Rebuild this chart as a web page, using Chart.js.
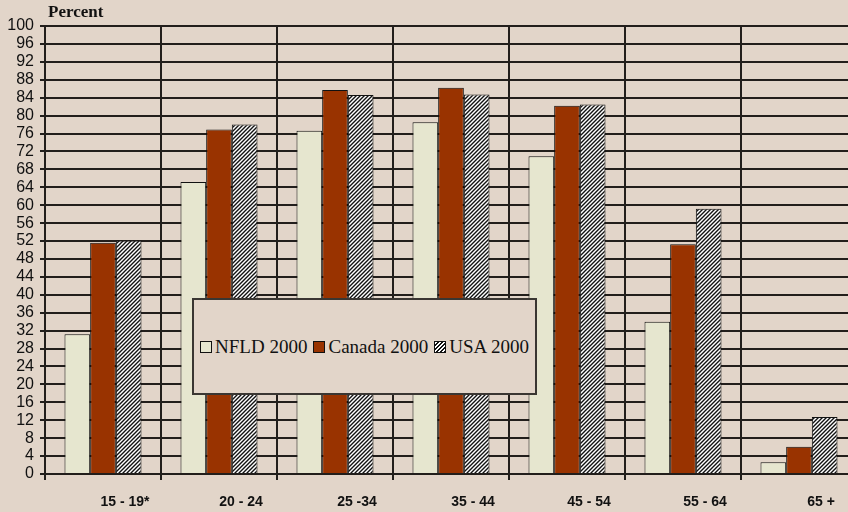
<!DOCTYPE html>
<html>
<head>
<meta charset="utf-8">
<script src="https://cdn.jsdelivr.net/npm/chart.js@4"></script>
<style>
  html, body { margin: 0; padding: 0; background: #e2d5c9; overflow: hidden; }
  #wrap { position: relative; width: 860px; height: 512px; }
  #yTitle {
    position: absolute; left: 48px; top: 2px;
    font: bold 17px "Liberation Serif", "Times New Roman", serif; color: #111;
  }
  #legend {
    position: absolute; left: 192px; top: 298px; width: 341px; height: 93px;
    background: #e2d5c9; border: 2px solid #3a3632;
    display: flex; align-items: center; justify-content: center;
    font: 19px "Liberation Serif", "Times New Roman", serif; color: #111;
  }
  #legend .item { display: flex; align-items: center; margin: 0 3px; }
  #legend .sw { width: 10px; height: 10px; border: 1px solid #111; margin-right: 3px; }
</style>
</head>
<body>
<div id="wrap">
  <canvas id="myChart" width="860" height="512"></canvas>
  <div id="yTitle">Percent</div>
  <div id="legend"></div>
</div>
<script>
const categories = ["15 - 19*", "20 - 24", "25 -34", "35 - 44", "45 - 54", "55 - 64", "65 +"];
const seriesNames = ["NFLD 2000", "Canada 2000", "USA 2000"];
const nfld = [31.2, 65.2, 76.6, 78.5, 70.9, 34.0, 2.6];
const canada = [51.6, 76.9, 85.7, 86.2, 82.2, 51.3, 6.1];
const usa = [52.1, 78.0, 84.6, 84.7, 82.5, 59.2, 12.7];

// diagonal hatch like the old spreadsheet pattern fill
const makeHatch = () => {
  const c = document.createElement("canvas");
  c.width = 4;
  c.height = 4;
  const g = c.getContext("2d");
  g.fillStyle = "#ffffff";
  g.fillRect(0, 0, 4, 4);
  g.strokeStyle = "#111111";
  g.lineWidth = 1.4;
  g.beginPath();
  g.moveTo(-1, 5); g.lineTo(5, -1);
  g.moveTo(-1, 1); g.lineTo(1, -1);
  g.moveTo(3, 5); g.lineTo(5, 3);
  g.stroke();
  return g.createPattern(c, "repeat");
};

const hatch = makeHatch();
const fills = ["#e6e6cf", "#993300", hatch];

// html legend
const legendEl = document.getElementById("legend");
seriesNames.forEach((name, i) => {
  const item = document.createElement("div");
  item.className = "item";
  const sw = document.createElement("span");
  sw.className = "sw";
  if (i === 2) {
    sw.style.background = "repeating-linear-gradient(-45deg, #111 0 1.3px, #fff 1.3px 2.8px)";
  } else {
    sw.style.background = fills[i];
  }
  item.appendChild(sw);
  item.appendChild(document.createTextNode(name));
  legendEl.appendChild(item);
});

const tickFont = { family: "'Liberation Sans Narrow', 'Arial Narrow', Arial, sans-serif", size: 16 };
const gridColor = "#221e1b";

const ctx = document.getElementById("myChart").getContext("2d");
new Chart(ctx, {
  type: "bar",
  data: {
    labels: categories,
    datasets: [nfld, canada, usa].map((vals, i) => ({
      label: seriesNames[i],
      data: vals,
      backgroundColor: fills[i],
      borderColor: "#111111",
      borderWidth: 1,
      categoryPercentage: 0.664,
      barPercentage: 1.0,
    })),
  },
  options: {
    responsive: false,
    animation: false,
    layout: { padding: { top: 26, right: 3, left: 0, bottom: 0 } },
    plugins: {
      legend: { display: false },
      tooltip: { enabled: false },
    },
    scales: {
      x: {
        grid: { color: gridColor, lineWidth: 2, tickLength: 6, offset: true },
        border: { color: gridColor, width: 2 },
        ticks: {
          color: "#111",
          font: { ...tickFont, size: 14, weight: "bold" },
          labelOffset: 22,
          padding: 14,
          maxRotation: 0,
        },
        afterFit: (scale) => { scale.height = 38; },
      },
      y: {
        min: 0,
        max: 100,
        grid: { color: gridColor, lineWidth: 2, tickLength: 5 },
        border: { color: gridColor, width: 2 },
        ticks: {
          stepSize: 4,
          autoSkip: false,
          color: "#111",
          font: tickFont,
          padding: 6,
        },
        afterFit: (scale) => { scale.width = 45; },
      },
    },
  },
});
</script>
</body>
</html>
